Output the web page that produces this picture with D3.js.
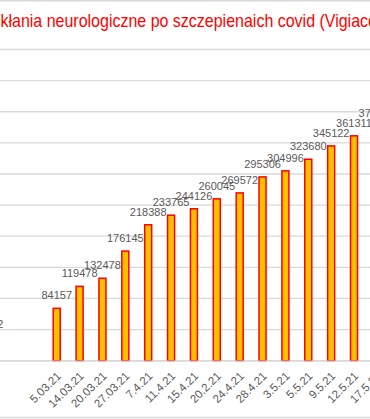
<!DOCTYPE html>
<html>
<head>
<meta charset="utf-8">
<script src="https://cdn.jsdelivr.net/npm/d3@7"></script>
<style>
  body { margin: 0; background: #fff; }
  svg { display: block; }
</style>
</head>
<body>
<div id="chart"></div>
<script>
var title = "Powikłania neurologiczne po szczepienaich covid (Vigiaccess)";
// first three slots sit left of the visible area, last slot is cut at the right edge
var labels = ["", "", "", "5.03.21", "14.03.21", "20.03.21", "27.03.21", "7.4.21", "11.4.21",
  "15.4.21", "20.2.21", "24.4.21", "28.4.21", "3.5.21", "5.5.21", "9.5.21", "12.5.21", "17.5.21"];
var values = [38712, null, null, 84157, 119478, 132478, 176145, 218388, 233765,
  244126, 260045, 269572, 295306, 304996, 323680, 345122, 361311, 377035];
var yTicks = [0, 50000, 100000, 150000, 200000, 250000, 300000, 350000, 400000, 450000, 500000];

var w = 370, h = 419;
var svg = d3.select("#chart").append("svg")
  .attr("width", w)
  .attr("height", h);

var step = 22.87;
var x = d3.scaleBand()
  .domain(d3.range(labels.length))
  .range([-11.9 - step / 2, -11.9 - step / 2 + step * labels.length]);
var y = d3.scaleLinear().domain([0, 500000]).range([360.7, 49.5]);

// chart frame lines (top and bottom of the crop)
svg.append("line").attr("x1", 0).attr("x2", w).attr("y1", 0.8).attr("y2", 0.8)
  .attr("stroke", "#d9d9d9").attr("stroke-width", 1.6);
svg.append("line").attr("x1", 0).attr("x2", w).attr("y1", 417.5).attr("y2", 417.5)
  .attr("stroke", "#d9d9d9").attr("stroke-width", 1.3);

// gridlines
svg.append("g")
  .selectAll("line")
  .data(yTicks)
  .enter()
  .append("line")
  .attr("x1", 0)
  .attr("x2", w)
  .attr("y1", function(d) { return y(d); })
  .attr("y2", function(d) { return y(d); })
  .attr("stroke", "#d9d9d9")
  .attr("stroke-width", 1.3);

// title, cut on both sides like the reference; squeezed to mimic Calibri width
var t = svg.append("text")
  .attr("fill", "#ff0000")
  .style("font-family", "'Liberation Sans', Arial, sans-serif")
  .style("font-size", "19px")
  .text(title);
var visible = t.node().getSubStringLength(4, 51);
var sx = 368 / visible;
var off = t.node().getSubStringLength(0, 4);
t.attr("transform", "translate(0.5,27) scale(" + sx + ",1) translate(" + (-off) + ",0)");

var data = values.map(function(v, i) { return { i: i, v: v, label: labels[i] }; });
var bars = data.filter(function(d) { return d.v != null; });
var bw = 7;

svg.append("g")
  .selectAll("rect")
  .data(bars)
  .enter()
  .append("rect")
  .attr("x", function(d) { return x(d.i) + x.bandwidth() / 2 - bw / 2; })
  .attr("width", bw)
  .attr("y", function(d) { return y(d.v); })
  .attr("height", function(d) { return y(0) - y(d.v); })
  .attr("fill", "#ffc000")
  .attr("stroke", "#ff0000")
  .attr("stroke-width", 1.5);

// data labels
svg.append("g")
  .selectAll("text")
  .data(bars)
  .enter()
  .append("text")
  .attr("x", function(d) { return x(d.i) + x.bandwidth() / 2; })
  .attr("y", function(d) { return y(d.v) - 9; })
  .attr("text-anchor", "middle")
  .attr("fill", "#595959")
  .style("font-family", "'Liberation Sans', Arial, sans-serif")
  .style("font-size", "11px")
  .text(function(d) { return d.v; });

// rotated category labels
var xAxis = d3.axisBottom(x)
  .tickSize(0)
  .tickFormat(function(i) { return labels[i]; });

var gx = svg.append("g")
  .attr("transform", "translate(0," + y(0) + ")")
  .call(xAxis);
gx.select(".domain")
  .attr("stroke", "#d9d9d9")
  .attr("stroke-width", 1.3);
gx.selectAll("text")
  .attr("fill", "#595959")
  .style("font-family", "'Liberation Sans', Arial, sans-serif")
  .style("font-size", "11.5px")
  .attr("text-anchor", "end")
  .attr("dy", null)
  .attr("y", null)
  .attr("transform", "translate(5,16) rotate(-45)");
</script>
</body>
</html>
